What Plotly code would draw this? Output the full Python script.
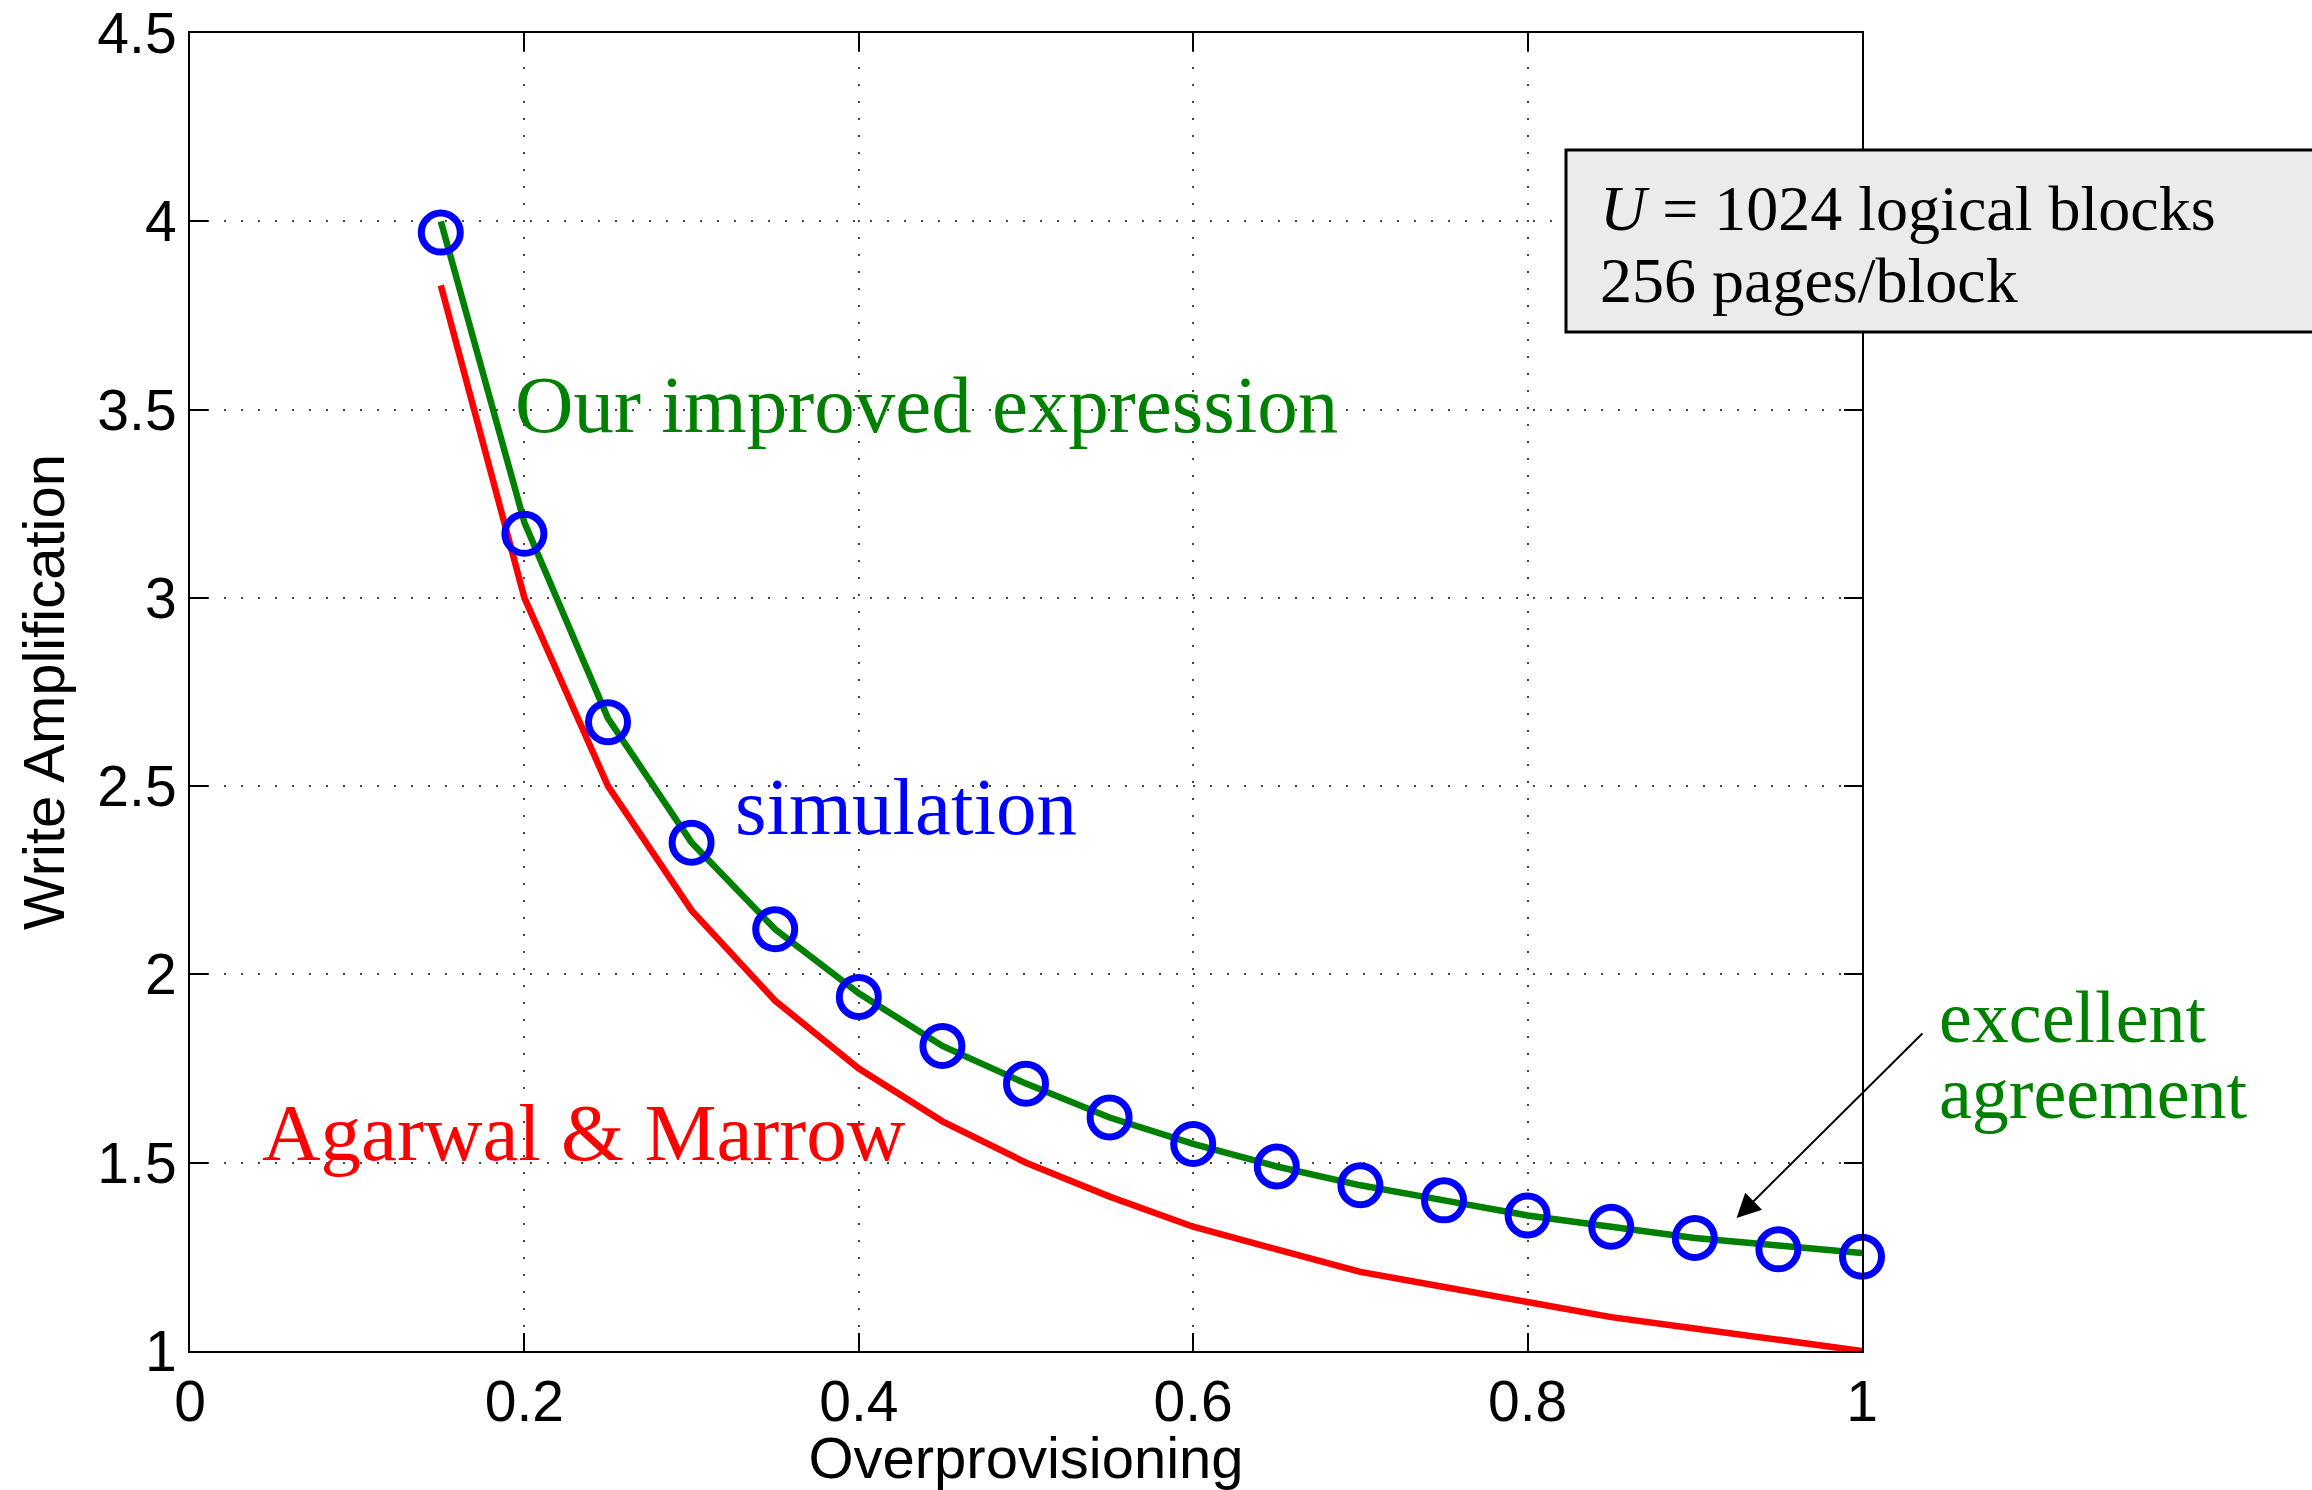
import plotly.graph_objects as go

# ---- data ----
overprov = [0.15, 0.20, 0.25, 0.30, 0.35, 0.40, 0.45, 0.50, 0.55, 0.60,
            0.65, 0.70, 0.75, 0.80, 0.85, 0.90, 0.95, 1.00]
simulation = [3.97, 3.17, 2.67, 2.35, 2.12, 1.94, 1.81, 1.71, 1.62, 1.55,
              1.49, 1.44, 1.40, 1.36, 1.33, 1.30, 1.27, 1.25]
improved = [4.00, 3.20, 2.68, 2.35, 2.12, 1.95, 1.81, 1.71, 1.62, 1.55,
            1.49, 1.44, 1.40, 1.36, 1.33, 1.30, 1.28, 1.26]
agarwal = [3.83, 3.00, 2.50, 2.17, 1.93, 1.75, 1.61, 1.50, 1.41, 1.33,
           1.27, 1.21, 1.17, 1.13, 1.09, 1.06, 1.03, 1.00]
x_ticks = [0, 0.2, 0.4, 0.6, 0.8, 1]
x_tick_labels = ["0", "0.2", "0.4", "0.6", "0.8", "1"]
y_ticks = [1, 1.5, 2, 2.5, 3, 3.5, 4, 4.5]
y_tick_labels = ["1", "1.5", "2", "2.5", "3", "3.5", "4", "4.5"]

GREEN = "#008000"
RED = "#FF0000"
BLUE = "#0000FF"
SERIF = "Liberation Serif, Times New Roman, serif"
SANS = "Liberation Sans, Arial, Helvetica, sans-serif"

# plot-area geometry in pixels
L, R, T, B = 190, 1862, 33, 1351
PW, PH = R - L, B - T


def px(xp):
    return (xp - L) / PW


def py(yp):
    return 1 - (yp - T) / PH


fig = go.Figure()
fig.add_trace(go.Scatter(x=overprov, y=agarwal, mode="lines",
                         line=dict(color=RED, width=6.5), showlegend=False))
fig.add_trace(go.Scatter(x=overprov, y=improved, mode="lines",
                         line=dict(color=GREEN, width=6.5), showlegend=False))
fig.add_trace(go.Scatter(x=overprov, y=simulation, mode="markers",
                         marker=dict(symbol="circle-open", size=39,
                                     line=dict(color=BLUE, width=7), color=BLUE),
                         showlegend=False, cliponaxis=False))

axis_common = dict(
    showline=True, linecolor="black", linewidth=2, mirror="ticks",
    ticks="inside", ticklen=18, tickwidth=2, tickcolor="black",
    showgrid=True, gridcolor="#444444", gridwidth=1.5, griddash="2px,15px",
    zeroline=False, automargin=False,
    tickfont=dict(family=SANS, size=57, color="black"),
)

fig.update_xaxes(range=[0, 1], tickvals=x_ticks, ticktext=x_tick_labels,
                 title=dict(text="Overprovisioning", standoff=6,
                            font=dict(family=SANS, size=58, color="black")),
                 **axis_common)
fig.update_yaxes(range=[1, 4.5], tickvals=y_ticks, ticktext=y_tick_labels,
                 title=dict(text="Write Amplification", standoff=14,
                            font=dict(family=SANS, size=58, color="black")),
                 **axis_common)

annotations = [
    dict(x=0.193, y=3.512, xref="x", yref="y", text="Our improved expression",
         showarrow=False, xanchor="left", yanchor="middle",
         font=dict(family=SERIF, size=81, color=GREEN)),
    dict(x=0.325, y=2.445, xref="x", yref="y", text="simulation",
         showarrow=False, xanchor="left", yanchor="middle",
         font=dict(family=SERIF, size=81, color=BLUE)),
    dict(x=0.042, y=1.579, xref="x", yref="y", text="Agarwal &amp; Marrow",
         showarrow=False, xanchor="left", yanchor="middle",
         font=dict(family=SERIF, size=81, color=RED)),
    dict(x=px(1937), y=py(1017), xref="paper", yref="paper",
         text="excellent",
         showarrow=False, xanchor="left", yanchor="middle", align="left",
         font=dict(family=SERIF, size=74, color=GREEN)),
    dict(x=px(1937), y=py(1093), xref="paper", yref="paper",
         text="agreement",
         showarrow=False, xanchor="left", yanchor="middle", align="left",
         font=dict(family=SERIF, size=74, color=GREEN)),
    dict(x=0.925, y=1.353, xref="x", yref="y", ax=1.037, ay=1.847,
         axref="x", ayref="y", text="", showarrow=True,
         arrowhead=2, arrowsize=2.4, arrowwidth=2, arrowcolor="black"),
    dict(x=px(1598), y=py(209), xref="paper", yref="paper",
         text="<i>U</i> = 1024 logical blocks", showarrow=False,
         xanchor="left", yanchor="middle",
         font=dict(family=SERIF, size=64, color="black")),
    dict(x=px(1598), y=py(280), xref="paper", yref="paper",
         text="256 pages/block", showarrow=False,
         xanchor="left", yanchor="middle",
         font=dict(family=SERIF, size=64, color="black")),
]

shapes = [
    dict(type="rect", xref="paper", yref="paper",
         x0=px(1566), x1=px(2340), y0=py(332), y1=py(150),
         fillcolor="#EBEBEB", line=dict(color="black", width=3), layer="above"),
]

fig.update_layout(
    width=2312, height=1490,
    margin=dict(l=L, r=2312 - R, t=T, b=1490 - B),
    paper_bgcolor="white", plot_bgcolor="white",
    annotations=annotations, shapes=shapes,
)

fig.write_html("out.html")
